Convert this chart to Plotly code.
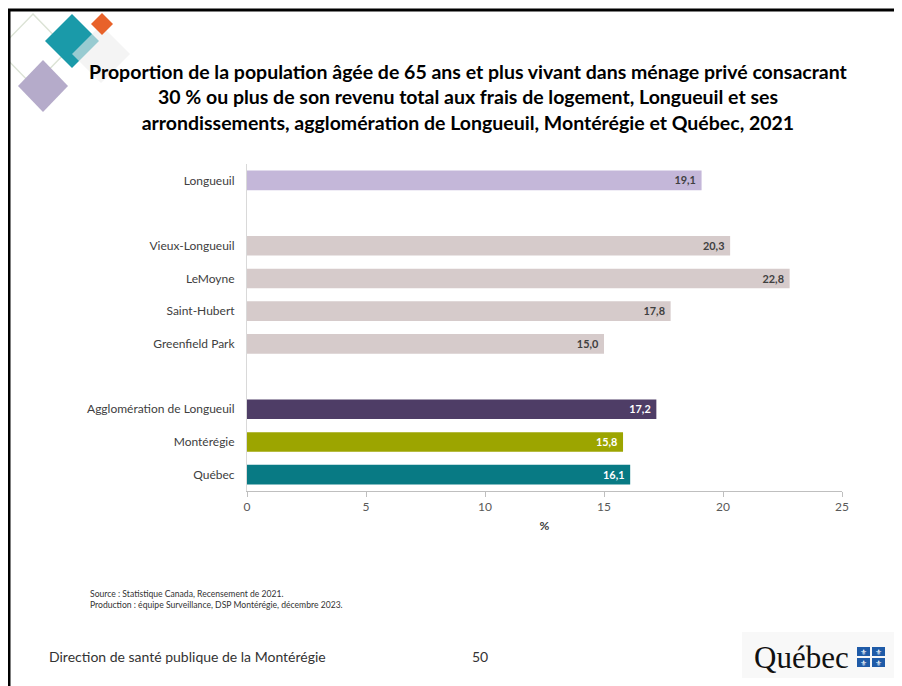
import plotly.graph_objects as go

OFF = 8  # page body margin in the browser
W, H = 902 - OFF, 686 - OFF
ML, MT = 247 - OFF, 164 - OFF
PW, PH = 595, 327
MR = W - ML - PW
MB = H - MT - PH

categories = ["Longueuil", "Vieux-Longueuil", "LeMoyne", "Saint-Hubert", "Greenfield Park",
              "Agglomération de Longueuil", "Montérégie", "Québec"]
slots = [0, 2, 3, 4, 5, 7, 8, 9]
values = [19.1, 20.3, 22.8, 17.8, 15.0, 17.2, 15.8, 16.1]
bar_colors = ["#C4B7D9", "#D6CBCB", "#D6CBCB", "#D6CBCB", "#D6CBCB", "#4E3D66", "#9CA500", "#087A84"]
label_colors = ["#404040", "#404040", "#404040", "#404040", "#404040", "#FFFFFF", "#FFFFFF", "#FFFFFF"]
x_ticks = [0, 5, 10, 15, 20, 25]

labels = [f"{v:.1f}".replace(".", ",") + "&nbsp;" for v in values]

def px(x):
    # reference-pixel x -> paper
    return (x - OFF - ML) / PW

def py(y):
    # reference-pixel y -> paper
    return (MT + PH - (y - OFF)) / PH

FONT = "Lato"

fig = go.Figure(go.Bar(
    x=values, y=slots, orientation="h", width=0.6,
    marker=dict(color=bar_colors, line=dict(width=0)),
    text=labels, textposition="inside", insidetextanchor="end",
    textfont=dict(color=label_colors, size=12, family=FONT, weight="bold"),
    hoverinfo="skip", cliponaxis=False,
))

shapes = []
def diamond(cx, cy, rx, ry, fill, line=None, opacity=1.0):
    path = (f"M {px(cx)},{py(cy-ry)} L {px(cx+rx)},{py(cy)} "
            f"L {px(cx)},{py(cy+ry)} L {px(cx-rx)},{py(cy)} Z")
    d = dict(type="path", xref="paper", yref="paper", path=path,
             fillcolor=fill, opacity=opacity, layer="below",
             line=dict(width=0) if line is None else line)
    shapes.append(d)

# decorative diamonds
diamond(33, 50, 35, 36, "rgba(0,0,0,0)", line=dict(color="#DCE3D6", width=1.5))
diamond(43, 86, 25, 26, "#B5ABCA")
diamond(72, 41, 27, 27, "#1A9AA9")
diamond(101, 54, 29, 29, "#EDEDED", opacity=0.6)
diamond(102, 24, 11, 11, "#E8622A")

# slide frame
shapes.append(dict(type="line", xref="paper", yref="paper", x0=px(8), x1=px(902), y0=py(10), y1=py(10),
                   line=dict(color="black", width=3)))
shapes.append(dict(type="line", xref="paper", yref="paper", x0=px(9), x1=px(9), y0=py(10), y1=py(686),
                   line=dict(color="black", width=3)))
# logo background
shapes.append(dict(type="rect", xref="paper", yref="paper", x0=px(742), x1=px(898), y0=py(632), y1=py(678),
                   fillcolor="#F8F8F8", line=dict(width=0), layer="below"))
# logo flag blocks
for (bx, by) in [(857, 647), (872, 647), (857, 658), (872, 658)]:
    shapes.append(dict(type="rect", xref="paper", yref="paper", x0=px(bx), x1=px(bx + 13), y0=py(by), y1=py(by + 9),
                       fillcolor="#1F5BA8", line=dict(width=0)))

annotations = [
    dict(xref="paper", yref="paper", x=px(468), y=py(97),
         text="<b>Proportion de la population âgée de 65 ans et plus vivant dans ménage privé consacrant<br>"
              "30 % ou plus de son revenu total aux frais de logement, Longueuil et ses<br>"
              "arrondissements, agglomération de Longueuil, Montérégie et Québec, 2021</b>",
         showarrow=False, xanchor="center", yanchor="middle", align="center",
         font=dict(family=FONT, size=19.5, color="#000000")),
    dict(xref="paper", yref="paper", x=px(88), y=py(599),
         text="Source : Statistique Canada, Recensement de 2021.<br>Production : équipe Surveillance, DSP Montérégie, décembre 2023.",
         showarrow=False, xanchor="left", yanchor="middle", align="left",
         font=dict(family=FONT, size=8.6, color="#333333")),
    dict(xref="paper", yref="paper", x=px(47), y=py(656),
         text="Direction de santé publique de la Montérégie",
         showarrow=False, xanchor="left", yanchor="middle",
         font=dict(family=FONT, size=14, color="#333333")),
    dict(xref="paper", yref="paper", x=px(480), y=py(656),
         text="50", showarrow=False, xanchor="center", yanchor="middle",
         font=dict(family=FONT, size=14, color="#333333")),
    dict(xref="paper", yref="paper", x=px(851), y=py(657),
         text="Québec", showarrow=False, xanchor="right", yanchor="middle",
         font=dict(family="Liberation Serif", size=31, color="#111111")),
]
for (bx, by) in [(857, 647), (872, 647), (857, 658), (872, 658)]:
    annotations.append(dict(xref="paper", yref="paper", x=px(bx + 6.5), y=py(by + 4.5),
                            text="⚜", showarrow=False, xanchor="center", yanchor="middle",
                            font=dict(size=8, color="white")))

fig.update_layout(
    width=W, height=H,
    margin=dict(l=ML, r=MR, t=MT, b=MB, pad=0),
    paper_bgcolor="white", plot_bgcolor="white",
    showlegend=False,
    font=dict(family=FONT, color="#404040", size=12),
    shapes=shapes, annotations=annotations,
    xaxis=dict(range=[0, 25], tickvals=x_ticks, ticktext=[str(t) for t in x_ticks],
               showgrid=False, zeroline=False, showline=True, linecolor="#BFBFBF", linewidth=1,
               ticks="outside", ticklen=5, tickcolor="#BFBFBF",
               tickfont=dict(size=12, color="#595959"),
               title=dict(text="<b>%</b>", font=dict(size=12, color="#404040"), standoff=8)),
    yaxis=dict(range=[9.5, -0.5], tickvals=slots, ticktext=categories,
               showgrid=False, zeroline=False, showline=True, linecolor="#D9D9D9", linewidth=1,
               ticks="outside", ticklen=9, tickcolor="rgba(0,0,0,0)",
               tickfont=dict(size=12, color="#404040")),
)

fig.write_html("out.html")
